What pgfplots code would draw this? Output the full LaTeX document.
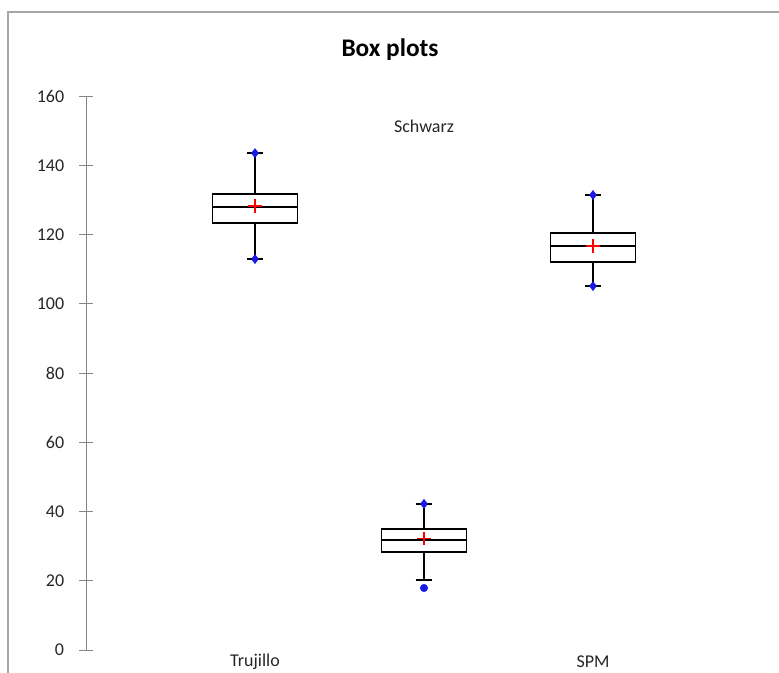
\documentclass[border=0pt]{standalone}
\usepackage{pgfplots}
\pgfplotsset{compat=1.18}
\usepgfplotslibrary{statistics}
\usepackage{fontspec}
\setmainfont{Carlito}
\definecolor{axgray}{HTML}{868686}
\definecolor{framegray}{HTML}{A6A6A6}
\definecolor{txt}{HTML}{262626}
\definecolor{mkblue}{HTML}{1A1AE6}
\definecolor{mkred}{HTML}{FF0000}
\begin{document}
\begin{tikzpicture}[x=1pt,y=1pt]
\useasboundingbox (0,0) rectangle (584.25,504.75);
\draw[framegray,line width=0.8pt] (6,0) -- (6,495.75) -- (584.25,495.75);
\node[font=\fontsize{19}{22}\selectfont\bfseries,text=black] at (292.5,467.5) {Box plots};
\begin{axis}[
  at={(64.5pt,17.25pt)}, anchor=south west,
  scale only axis, width=507pt, height=415.5pt,
  xmin=0, xmax=4, ymin=0, ymax=160,
  clip=false,
  axis x line=none,
  axis y line*=left,
  y axis line style={axgray,line width=0.6pt,-},
  ytick={0,20,...,160},
  tick align=center,
  major tick length=9.75pt,
  ytick style={axgray,line width=0.6pt},
  yticklabel style={font=\fontsize{13.5}{15}\selectfont,text=txt,xshift=-8pt},
  /pgf/number format/assume math mode=true,
  boxplot/draw direction=y,
  boxplot/box extend=0.5,
  boxplot/whisker extend=0.1,
]
% Trujillo
\addplot[black,line width=1.1pt,solid,boxplot prepared={draw position=1,
  lower whisker=112.9, lower quartile=123.3, median=127.9,
  upper quartile=131.7, upper whisker=143.5}] coordinates {};
% Schwarz
\addplot[black,line width=1.1pt,solid,boxplot prepared={draw position=2,
  lower whisker=20.2, lower quartile=28.3, median=31.8,
  upper quartile=34.9, upper whisker=42.2}] coordinates {};
% SPM
\addplot[black,line width=1.1pt,solid,boxplot prepared={draw position=3,
  lower whisker=105.1, lower quartile=112.0, median=116.7,
  upper quartile=120.4, upper whisker=131.4}] coordinates {};
% minimum / maximum
\addplot[only marks,mark=diamond*,mark size=3.4pt,color=mkblue] coordinates {
  (1,112.9) (1,143.5) (2,42.2) (3,105.1) (3,131.4)};
% outlier
\addplot[only marks,mark=*,mark size=2.8pt,color=mkblue] coordinates {(2,17.9)};
% means
\addplot[only marks,mark=+,mark size=5pt,color=mkred,mark options={line width=1pt}] coordinates {
  (1,128.2) (2,32.2) (3,116.7)};
% category labels
\node[font=\fontsize{13.5}{16}\selectfont,text=txt,inner sep=0pt] at (axis cs:1,-3.3) {Trujillo};
\node[font=\fontsize{13.5}{16}\selectfont,text=txt,inner sep=0pt] at (axis cs:2,151.2) {Schwarz};
\node[font=\fontsize{13.5}{16}\selectfont,text=txt,inner sep=0pt] at (axis cs:3,-3.3) {SPM};
\end{axis}
\end{tikzpicture}
\end{document}
